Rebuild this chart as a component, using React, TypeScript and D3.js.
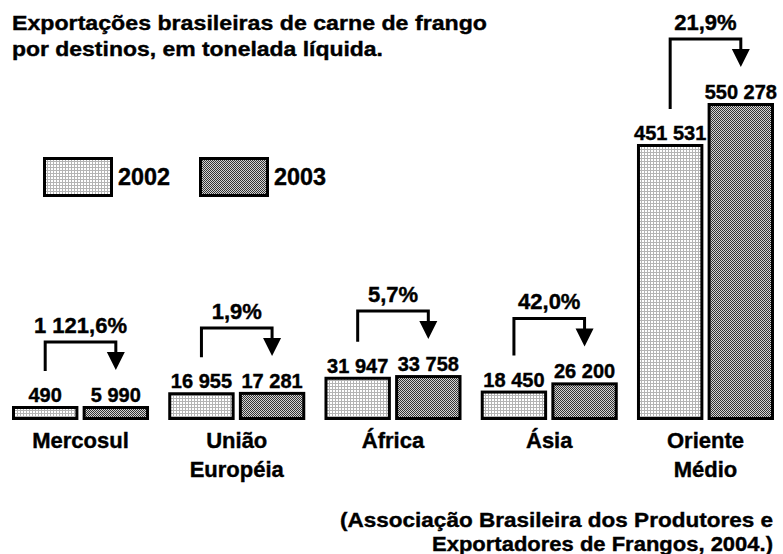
import React from "react";
import * as d3 from "d3";

const categories: string[][] = [["Mercosul"], ["União", "Européia"], ["África"], ["Ásia"], ["Oriente", "Médio"]];
const values2002: number[] = [490, 16955, 31947, 18450, 451531];
const values2003: number[] = [5990, 17281, 33758, 26200, 550278];
const changes: string[] = ["1 121,6%", "1,9%", "5,7%", "42,0%", "21,9%"];
const years: string[] = ["2002", "2003"];
const titleLines: string[] = ["Exportações brasileiras de carne de frango", "por destinos, em tonelada líquida."];
const sourceLines: string[] = ["(Associação Brasileira dos Produtores e", "Exportadores de Frangos, 2004.)"];

const W = 783;
const H = 554;
const BASE = 420;
const FONT = "'Liberation Sans', Arial, Helvetica, sans-serif";

const locale = d3.formatLocale({ thousands: " ", grouping: [3], decimal: ",", currency: ["", ""] });
const fmt = locale.format(",");

export default function App() {
  const keys = categories.map((c) => c.join(" "));
  const x = d3.scaleBand<string>().domain(keys).range([12, 774]).paddingInner(0.123).paddingOuter(0);
  const xi = d3.scaleBand<string>().domain(years).range([0, x.bandwidth()]).paddingInner(0.06).paddingOuter(0);
  const y = d3.scalePow().exponent(0.7).domain([0, 550278]).range([0, 317]);
  const minH = 14;
  const hOf = (v: number) => Math.max(minH, y(v));

  const groups = keys.map((k, i) => {
    const x0 = x(k)!;
    const bars = years.map((yr, j) => {
      const v = j === 0 ? values2002[i] : values2003[i];
      const h = hOf(v);
      const bx = x0 + xi(yr)!;
      return { yr, v, h, bx, top: BASE - h, cx: bx + xi.bandwidth() / 2 };
    });
    const labelTops = bars.map((b) => b.top - 4 - 14);
    const hy = Math.min(...labelTops) - 46;
    return { k, i, x0, bars, labelTops, hy };
  });

  const bw = xi.bandwidth();
  const tri = 18;
  const heavy = { stroke: "#000", strokeWidth: 0.4 } as const;

  return (
    <svg
      width={W}
      height={H}
      style={{ position: "absolute", left: 0, top: 0, background: "#fff" }}
      fontFamily={FONT}
      fontWeight="bold"
    >
      <defs>
        <pattern id="p2002" patternUnits="userSpaceOnUse" width={3} height={3}>
          <rect width={3} height={3} fill="#b4b4b4" shapeRendering="crispEdges" />
          <rect width={2} height={2} fill="#ffffff" shapeRendering="crispEdges" />
        </pattern>
        <pattern id="p2003" patternUnits="userSpaceOnUse" width={2} height={2}>
          <rect width={2} height={2} fill="#d4d4d4" shapeRendering="crispEdges" />
          <rect width={1} height={1} fill="#333333" shapeRendering="crispEdges" />
          <rect x={1} y={1} width={1} height={1} fill="#333333" shapeRendering="crispEdges" />
        </pattern>
      </defs>
      <rect width={W} height={H} fill="#fff" />

      {/* title */}
      <text x={12} y={30} fontSize={21} textLength={475} lengthAdjust="spacingAndGlyphs" {...heavy}>
        {titleLines[0]}
      </text>
      <text x={12} y={56} fontSize={21} textLength={371} lengthAdjust="spacingAndGlyphs" {...heavy}>
        {titleLines[1]}
      </text>

      {/* legend */}
      {years.map((yr, j) => {
        const lx = j === 0 ? 43 : 199;
        return (
          <g key={yr}>
            <rect x={lx + 1.5} y={158.5} width={67} height={37} fill={`url(#p${yr})`} stroke="#000" strokeWidth={3} />
            <text x={lx + 75} y={185} fontSize={24} textLength={52} lengthAdjust="spacingAndGlyphs" {...heavy}>
              {yr}
            </text>
          </g>
        );
      })}

      {/* bars */}
      {groups.map((g) => (
        <g key={g.k}>
          {g.bars.map((b) => (
            <g key={b.yr}>
              <rect
                x={b.bx + 1.5}
                y={b.top + 1.5}
                width={bw - 3}
                height={b.h - 3}
                fill={`url(#p${b.yr})`}
                stroke="#000"
                strokeWidth={3}
              />
              <text x={b.cx} y={b.top - 4} fontSize={20} textAnchor="middle" {...heavy}>
                {fmt(b.v)}
              </text>
            </g>
          ))}
          {/* arrow */}
          <path
            d={`M${g.bars[0].cx},${g.labelTops[0] - 17} V${g.hy} H${g.bars[1].cx} V${g.labelTops[1] - 18 - tri + 1}`}
            fill="none"
            stroke="#000"
            strokeWidth={3}
          />
          <path
            d={`M${g.bars[1].cx - tri / 2},${g.labelTops[1] - 18 - tri} L${g.bars[1].cx + tri / 2},${g.labelTops[1] - 18 - tri} L${g.bars[1].cx},${g.labelTops[1] - 18} Z`}
            fill="#000"
          />
          <text x={(g.bars[0].cx + g.bars[1].cx) / 2} y={g.hy - 9} fontSize={22} textAnchor="middle" {...heavy}>
            {changes[g.i]}
          </text>
          {categories[g.i].map((line, li) => (
            <text key={li} x={g.x0 + x.bandwidth() / 2} y={448 + li * 29} fontSize={22} textAnchor="middle" {...heavy}>
              {line}
            </text>
          ))}
        </g>
      ))}

      {/* source */}
      <text x={773} y={527} fontSize={21} textAnchor="end" textLength={433} lengthAdjust="spacingAndGlyphs" {...heavy}>
        {sourceLines[0]}
      </text>
      <text x={773} y={551} fontSize={21} textAnchor="end" textLength={341} lengthAdjust="spacingAndGlyphs" {...heavy}>
        {sourceLines[1]}
      </text>
    </svg>
  );
}
